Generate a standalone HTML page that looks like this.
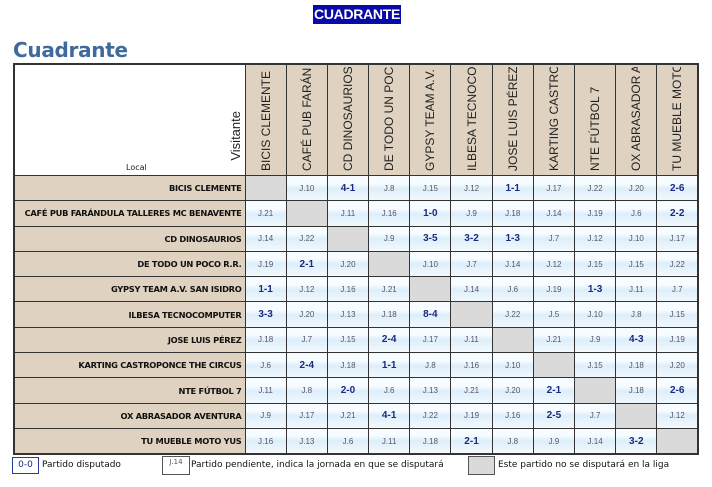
<!DOCTYPE html>
<html><head><meta charset="utf-8"><style>
body{margin:0;width:712px;height:487px;background:#fff;font-family:"Liberation Sans",sans-serif;position:relative;overflow:hidden}
.top{position:absolute;left:313px;top:5px;width:88px;height:19px;background:#0a0aa8;color:#fff;font-size:14px;font-weight:bold;line-height:19px;text-align:center;letter-spacing:-0.3px}
h1{position:absolute;left:13px;top:38px;margin:0;font:bold 20px "DejaVu Sans",sans-serif;color:#3f6a9c;letter-spacing:-0.3px}
table{position:absolute;left:13px;top:63px;border-collapse:collapse;table-layout:fixed;border:2px solid #333}
td{border:1px solid #333;padding:0;text-align:center;font-size:8px;color:#556;background:linear-gradient(#f6fcff 0%,#f6fcff 30%,#ddeefa 50%,#f2f9fd 100%);height:24.3px;overflow:hidden}
td.s{color:#1a2a80;font-size:10px;font-weight:bold}
td.x{background:#dadada}
td.l{background:#dfd2c0;text-align:right;font:bold 8.3px "DejaVu Sans",sans-serif;color:#111;padding-right:3px;letter-spacing:-0.3px;white-space:nowrap}
tr.h td{height:110px;background:#dfd2c0}
.v{height:104px;margin:2px auto 4px;writing-mode:vertical-rl;transform:rotate(180deg);white-space:nowrap;font-size:12px;color:#222;overflow:hidden;text-align:left;line-height:14px}
.corner{background:#fff!important;position:relative}
.leg{position:absolute;top:456px;font:9px "DejaVu Sans",sans-serif;color:#111}
</style></head><body>
<div class="top">CUADRANTE</div>
<h1>Cuadrante</h1>
<table>
<colgroup><col style="width:231px"><col span="11" style="width:41.2px"></colgroup>
<tr class="h"><td class="corner"><span style="position:absolute;left:111px;bottom:3px;font:8px 'DejaVu Sans',sans-serif;color:#222">Local</span><div style="position:absolute;right:2px;bottom:14px;writing-mode:vertical-rl;transform:rotate(180deg);font-size:13px;color:#222;white-space:nowrap">Visitante</div></td>
<td><div class="v">BICIS CLEMENTE</div></td><td><div class="v">CAFÉ PUB FARÁNDULA</div></td><td><div class="v">CD DINOSAURIOS</div></td><td><div class="v">DE TODO UN POCO</div></td><td><div class="v">GYPSY TEAM A.V. SAN</div></td><td><div class="v">ILBESA TECNOCOMP</div></td><td><div class="v">JOSE LUIS PÉREZ</div></td><td><div class="v">KARTING CASTROP</div></td><td><div class="v">NTE FÚTBOL 7</div></td><td><div class="v">OX ABRASADOR AVEN</div></td><td><div class="v">TU MUEBLE MOTO YUS</div></td></tr>
<tr><td class="l">BICIS CLEMENTE</td><td class="x"></td><td>J.10</td><td class="s">4-1</td><td>J.8</td><td>J.15</td><td>J.12</td><td class="s">1-1</td><td>J.17</td><td>J.22</td><td>J.20</td><td class="s">2-6</td></tr>
<tr><td class="l">CAFÉ PUB FARÁNDULA TALLERES MC BENAVENTE</td><td>J.21</td><td class="x"></td><td>J.11</td><td>J.16</td><td class="s">1-0</td><td>J.9</td><td>J.18</td><td>J.14</td><td>J.19</td><td>J.6</td><td class="s">2-2</td></tr>
<tr><td class="l">CD DINOSAURIOS</td><td>J.14</td><td>J.22</td><td class="x"></td><td>J.9</td><td class="s">3-5</td><td class="s">3-2</td><td class="s">1-3</td><td>J.7</td><td>J.12</td><td>J.10</td><td>J.17</td></tr>
<tr><td class="l">DE TODO UN POCO R.R.</td><td>J.19</td><td class="s">2-1</td><td>J.20</td><td class="x"></td><td>J.10</td><td>J.7</td><td>J.14</td><td>J.12</td><td>J.15</td><td>J.15</td><td>J.22</td></tr>
<tr><td class="l">GYPSY TEAM A.V. SAN ISIDRO</td><td class="s">1-1</td><td>J.12</td><td>J.16</td><td>J.21</td><td class="x"></td><td>J.14</td><td>J.6</td><td>J.19</td><td class="s">1-3</td><td>J.11</td><td>J.7</td></tr>
<tr><td class="l">ILBESA TECNOCOMPUTER</td><td class="s">3-3</td><td>J.20</td><td>J.13</td><td>J.18</td><td class="s">8-4</td><td class="x"></td><td>J.22</td><td>J.5</td><td>J.10</td><td>J.8</td><td>J.15</td></tr>
<tr><td class="l">JOSE LUIS PÉREZ</td><td>J.18</td><td>J.7</td><td>J.15</td><td class="s">2-4</td><td>J.17</td><td>J.11</td><td class="x"></td><td>J.21</td><td>J.9</td><td class="s">4-3</td><td>J.19</td></tr>
<tr><td class="l">KARTING CASTROPONCE THE CIRCUS</td><td>J.6</td><td class="s">2-4</td><td>J.18</td><td class="s">1-1</td><td>J.8</td><td>J.16</td><td>J.10</td><td class="x"></td><td>J.15</td><td>J.18</td><td>J.20</td></tr>
<tr><td class="l">NTE FÚTBOL 7</td><td>J.11</td><td>J.8</td><td class="s">2-0</td><td>J.6</td><td>J.13</td><td>J.21</td><td>J.20</td><td class="s">2-1</td><td class="x"></td><td>J.18</td><td class="s">2-6</td></tr>
<tr><td class="l">OX ABRASADOR AVENTURA</td><td>J.9</td><td>J.17</td><td>J.21</td><td class="s">4-1</td><td>J.22</td><td>J.19</td><td>J.16</td><td class="s">2-5</td><td>J.7</td><td class="x"></td><td>J.12</td></tr>
<tr><td class="l">TU MUEBLE MOTO YUS</td><td>J.16</td><td>J.13</td><td>J.6</td><td>J.11</td><td>J.18</td><td class="s">2-1</td><td>J.8</td><td>J.9</td><td>J.14</td><td class="s">3-2</td><td class="x"></td></tr>
</table>
<div class="leg" style="left:12px;width:25px;height:15px;border:1px solid #2a3aa0;text-align:center;line-height:15px;color:#1a2a80;top:457px">0-0</div>
<div class="leg" style="left:42px;top:460px">Partido disputado</div>
<div class="leg" style="left:162px;width:26px;height:17px;border:1px solid #555;font-size:7px;text-align:center;line-height:10px;color:#555">J.14</div>
<div class="leg" style="left:191px;top:460px">Partido pendiente, indica la jornada en que se disputará</div>
<div class="leg" style="left:468px;width:25px;height:17px;border:1px solid #555;background:#dadada"></div>
<div class="leg" style="left:498px;top:460px">Este partido no se disputará en la liga</div>
</body></html>
